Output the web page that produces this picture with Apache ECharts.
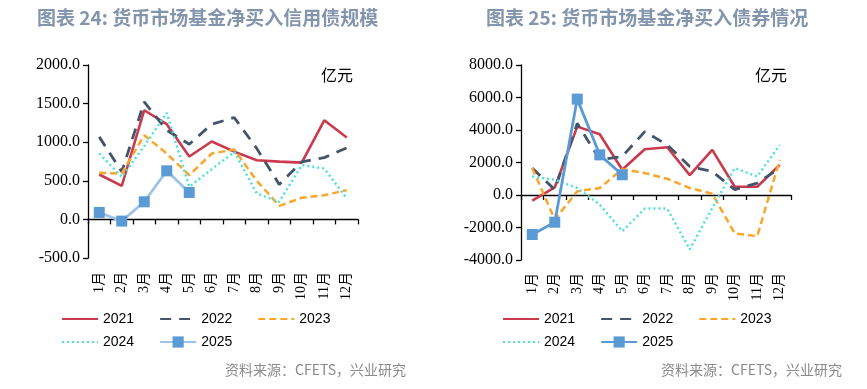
<!DOCTYPE html>
<html>
<head>
<meta charset="utf-8">
<script src="https://cdn.jsdelivr.net/npm/echarts@6/dist/echarts.min.js"></script>
<style>
html,body{margin:0;padding:0;background:#fff;}
#main{width:867px;height:389px;}
</style>
</head>
<body>
<div id="main"></div>
<script>
const months = ['1月','2月','3月','4月','5月','6月','7月','8月','9月','10月','11月','12月'];
const years = ['2021','2022','2023','2024','2025'];

// 图表24: 货币市场基金净买入信用债规模 (亿元)
const credit2021 = [582, 435, 1414, 1233, 815, 1009, 878, 767, 748, 735, 1284, 1060];
const credit2022 = [1069, 616, 1521, 1155, 974, 1233, 1319, 920, 452, 746, 800, 927];
const credit2023 = [603, 595, 1090, 853, 573, 853, 905, 500, 176, 280, 314, 379];
const credit2024 = [854, 551, 950, 1380, 422, 650, 875, 336, 228, 703, 660, 272];
const credit2025 = [90, -22, 228, 629, 349];

// 图表25: 货币市场基金净买入债券情况 (亿元)
const bond2021 = [-347, 470, 4207, 3737, 1552, 2818, 2940, 1225, 2777, 510, 510, 1858];
const bond2022 = [1654, 327, 4410, 2164, 2369, 3900, 3083, 1756, 1450, 327, 735, 1654];
const bond2023 = [1654, -1511, 225, 429, 1593, 1348, 1000, 429, 82, -2369, -2532, 2164];
const bond2024 = [1143, 939, 429, -592, -2226, -837, -837, -3349, -800, 1654, 1143, 3083];
const bond2025 = [-2430, -1674, 5901, 2471, 1245];

const yTicksLeft = {min: -500, max: 2000, interval: 500};
const yTicksRight = {min: -4000, max: 8000, interval: 2000};

const C = {
  r: '#c93a4c', d: '#44546a', o: '#f9a62a', c: '#4fe0dc',
  b25l: '#9dc3e6', b25m: '#5b9bd5'
};

function seriesFor(prefix, data, idx, c2025line) {
  const [d21, d22, d23, d24, d25] = data;
  const base = {type: 'line', xAxisIndex: idx, yAxisIndex: idx, symbol: 'none', smooth: false, animation: false, z: 3};
  return [
    Object.assign({}, base, {name: prefix + '2021', data: d21, lineStyle: {color: C.r, width: 2.6}, itemStyle: {color: C.r}}),
    Object.assign({}, base, {name: prefix + '2022', data: d22, lineStyle: {color: C.d, width: 2.8, type: [11, 8]}, itemStyle: {color: C.d}}),
    Object.assign({}, base, {name: prefix + '2023', data: d23, lineStyle: {color: C.o, width: 2.5, type: [7, 4]}, itemStyle: {color: C.o}}),
    Object.assign({}, base, {name: prefix + '2024', data: d24, lineStyle: {color: C.c, width: 2.5, type: [2, 3]}, itemStyle: {color: C.c}}),
    Object.assign({}, base, {name: prefix + '2025', data: d25, symbol: 'rect', symbolSize: 11, showSymbol: true,
      lineStyle: {color: c2025line, width: 2.8}, itemStyle: {color: C.b25m}, z: 4})
  ];
}

const gridL = {left: 88, width: 270, top: 65, bottom: 131};
const gridR = {left: 521, width: 270, top: 65, bottom: 129};

function xAxis(idx, margin) {
  return {
    type: 'category', gridIndex: idx, data: months, boundaryGap: true,
    axisLine: {onZero: true, lineStyle: {color: '#000', width: 1.3}},
    axisTick: {show: true, length: 5, inside: false, lineStyle: {color: '#000', width: 1.3}},
    axisLabel: {rotate: 90, margin: margin, color: '#000', fontSize: 14, fontFamily: 'Liberation Serif, Noto Sans CJK SC', interval: 0}
  };
}
function yAxis(idx, t) {
  return {
    type: 'value', gridIndex: idx, min: t.min, max: t.max, interval: t.interval,
    splitLine: {show: false},
    axisLine: {show: true, lineStyle: {color: '#000', width: 1.3}},
    axisTick: {show: true, length: 5, lineStyle: {color: '#000', width: 1.3}},
    axisLabel: {color: '#000', fontSize: 16, fontFamily: 'Liberation Serif', margin: 8, formatter: v => v.toFixed(1)}
  };
}

const legendText = {color: '#000', fontSize: 14, fontFamily: 'Liberation Sans'};
function legend(prefix, names, left, top) {
  return {
    data: names.map(n => (n === '2025'
      ? {name: prefix + n}
      : {name: prefix + n, itemStyle: {opacity: 0, color: 'rgba(0,0,0,0)', borderWidth: 0}})),
    left: left, top: top, orient: 'horizontal',
    itemWidth: 36, itemHeight: 14, itemGap: 25, padding: 0,
    textStyle: legendText, formatter: n => n.replace(prefix, ''), selectedMode: false
  };
}

const chart = echarts.init(document.getElementById('main'), null, {renderer: 'canvas'});
const titleStyle = {fill: '#8394ad', fontSize: 19, fontWeight: 'bold', fontFamily: 'Noto Sans CJK SC'};
const option = {
  animation: false,
  backgroundColor: '#fff',
  grid: [gridL, gridR],
  xAxis: [xAxis(0, 14), xAxis(1, 13)],
  yAxis: [yAxis(0, yTicksLeft), yAxis(1, yTicksRight)],
  legend: [
    legend('a', ['2021', '2022', '2023'], 61, 312),
    legend('a', ['2024', '2025'], 61, 335),
    legend('b', ['2021', '2022', '2023'], 502, 312),
    legend('b', ['2024', '2025'], 502, 335)
  ],
  graphic: [
    {type: 'text', left: 37, top: 8, style: Object.assign({text: '图表 24: 货币市场基金净买入信用债规模'}, titleStyle)},
    {type: 'text', left: 486, top: 8, style: Object.assign({text: '图表 25: 货币市场基金净买入债券情况'}, titleStyle)},
    {type: 'text', left: 321, top: 67, style: {text: '亿元', fill: '#000', fontSize: 16, fontFamily: 'Noto Sans CJK SC'}},
    {type: 'text', left: 755, top: 67, style: {text: '亿元', fill: '#000', fontSize: 16, fontFamily: 'Noto Sans CJK SC'}},
    {type: 'text', right: 867 - 406, top: 363, style: {text: '资料来源：CFETS，兴业研究', fill: '#8a8a8a', fontSize: 14, fontFamily: 'Noto Sans CJK SC'}},
    {type: 'text', right: 867 - 842, top: 363, style: {text: '资料来源：CFETS，兴业研究', fill: '#8a8a8a', fontSize: 14, fontFamily: 'Noto Sans CJK SC'}}
  ],
  series: [].concat(
    seriesFor('a', [credit2021, credit2022, credit2023, credit2024, credit2025], 0, C.b25l),
    seriesFor('b', [bond2021, bond2022, bond2023, bond2024, bond2025], 1, C.b25m)
  )
};
chart.setOption(option);
</script>
</body>
</html>
